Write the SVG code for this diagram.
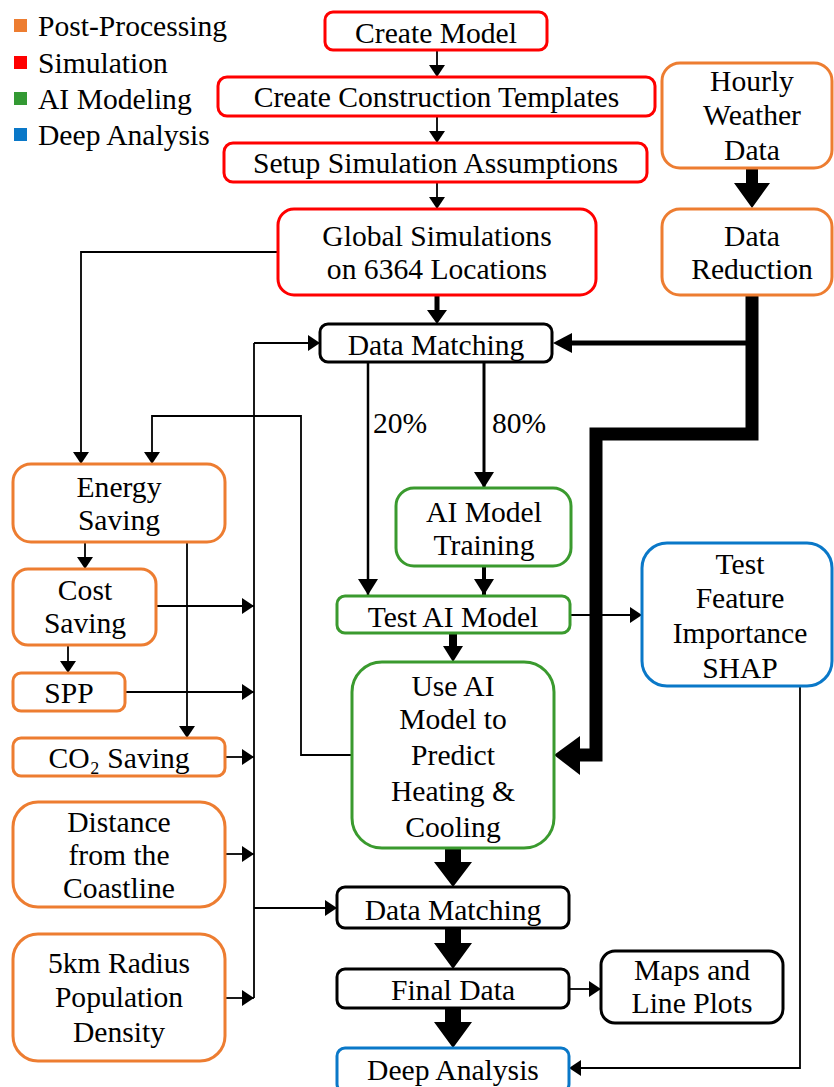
<svg xmlns="http://www.w3.org/2000/svg" width="834" height="1087" viewBox="0 0 834 1087">
<style>
text{font-family:"Liberation Serif","Times New Roman",serif;font-size:29.6px;fill:#000}
.n text{text-anchor:middle}
.box{fill:#fff;stroke-width:3}
.sim{stroke:#FF0000}
.post{stroke:#ED7D31}
.ai{stroke:#3A9A2E}
.deep{stroke:#0A78C8}
.blk{stroke:#000}
.ln{fill:none;stroke:#000;stroke-width:1.8}
.ah{fill:#000}
.lbl{text-anchor:start}
</style>
<defs>
<marker id="a" viewBox="0 0 12 16" refX="12" refY="8" markerWidth="12" markerHeight="16" markerUnits="userSpaceOnUse" orient="auto"><path d="M0,0 L12,8 L0,16 z" fill="#000"/></marker>
<marker id="b" viewBox="0 0 16 20" refX="16" refY="10" markerWidth="16" markerHeight="20" markerUnits="userSpaceOnUse" orient="auto"><path d="M0,0 L16,10 L0,20 z" fill="#000"/></marker>
</defs>
<rect width="834" height="1087" fill="#fff"/>
<g id="legend">
<rect x="14" y="19" width="13" height="13" fill="#ED7D31"/><text x="38" y="36">Post-Processing</text>
<rect x="14" y="56" width="13" height="13" fill="#FF0000"/><text x="38" y="73">Simulation</text>
<rect x="14" y="92" width="13" height="13" fill="#339933"/><text x="38" y="109">AI Modeling</text>
<rect x="14" y="128" width="13" height="13" fill="#0A78C8"/><text x="38" y="145">Deep Analysis</text>
</g>
<g id="connectors">
<path class="ln" d="M437,50 V77" marker-end="url(#a)"/>
<path class="ln" d="M437,116 V143" marker-end="url(#a)"/>
<path class="ln" d="M437,182 V209" marker-end="url(#a)"/>
<polygon class="ah" points="434.5,295 439.5,295 439.5,310 447,310 437,324 427,310 434.5,310"/>
<polygon class="ah" points="746,168 758,168 758,183 770,183 752,208 734,183 746,183"/>
<path d="M752,295 V434 H596 V755 H580" fill="none" stroke="#000" stroke-width="13"/>
<polygon class="ah" points="580,736 580,775 554,755"/>
<path d="M752,343 H571" fill="none" stroke="#000" stroke-width="5"/>
<polygon class="ah" points="572,333 572,353 553,343"/>
<path class="ln" d="M278,252 H81 V464" marker-end="url(#a)"/>
<path class="ln" d="M352,755 H301 V416 H152 V464" marker-end="url(#a)"/>
<path class="ln" d="M254,343 V998"/>
<path class="ln" d="M254,343 H320" marker-end="url(#a)"/>
<path class="ln" d="M254,908 H337" marker-end="url(#a)"/>
<path class="ln" d="M156,606 H254" marker-end="url(#a)"/>
<path class="ln" d="M125,692 H254" marker-end="url(#a)"/>
<path class="ln" d="M225,757 H254" marker-end="url(#a)"/>
<path class="ln" d="M225,854 H254" marker-end="url(#a)"/>
<path class="ln" d="M225,998 H254" marker-end="url(#a)"/>
<path class="ln" d="M85,542 V569" marker-end="url(#a)"/>
<path class="ln" d="M68,645 V673" marker-end="url(#a)"/>
<path class="ln" d="M187,542 V738" marker-end="url(#a)"/>
<path d="M368,362 V595" fill="none" stroke="#000" stroke-width="2.5" marker-end="url(#b)"/>
<path d="M484,362 V488" fill="none" stroke="#000" stroke-width="3" marker-end="url(#b)"/>
<path d="M484,566 V595" fill="none" stroke="#000" stroke-width="4" marker-end="url(#b)"/>
<polygon class="ah" points="449,633 457,633 457,646 463,646 453,662 443,646 449,646"/>
<path class="ln" d="M571,615 H642" marker-end="url(#a)"/>
<path class="ln" d="M800,686 V1068 H569" marker-end="url(#a)"/>
<path class="ln" d="M569,989 H601" marker-end="url(#a)"/>
<polygon class="ah" points="445,848 461,848 461,862 472,862 453,887 434,862 445,862"/>
<polygon class="ah" points="445,928 461,928 461,943 472,943 453,969 434,943 445,943"/>
<polygon class="ah" points="445,1008 461,1008 461,1022 472,1022 453,1048 434,1022 445,1022"/>
<text class="lbl" x="373" y="433">20%</text>
<text class="lbl" x="492" y="433">80%</text>
</g>
<g class="n">
<g id="create-model"><rect class="box sim" x="325" y="12" width="222" height="38" rx="8"/><text x="436" y="43">Create Model</text></g>
<g id="construction-templates"><rect class="box sim" x="218" y="77" width="437" height="39" rx="9"/><text x="436.5" y="107">Create Construction Templates</text></g>
<g id="simulation-assumptions"><rect class="box sim" x="224" y="143" width="423" height="39" rx="9"/><text x="435.5" y="173">Setup Simulation Assumptions</text></g>
<g id="global-simulations"><rect class="box sim" x="278" y="209" width="318" height="86" rx="16"/><text x="437" y="246">Global Simulations</text><text x="437" y="279">on 6364 Locations</text></g>
<g id="hourly-weather"><rect class="box post" x="662" y="63" width="170" height="105" rx="18"/><text x="752" y="91">Hourly</text><text x="752" y="125">Weather</text><text x="752" y="160">Data</text></g>
<g id="data-reduction"><rect class="box post" x="662" y="209" width="170" height="86" rx="18"/><text x="752" y="246">Data</text><text x="752" y="279">Reduction</text></g>
<g id="data-matching-1"><rect class="box blk" x="320" y="324" width="232" height="38" rx="8"/><text x="436" y="355">Data Matching</text></g>
<g id="ai-training"><rect class="box ai" x="396" y="488" width="175" height="78" rx="18"/><text x="484" y="522">AI Model</text><text x="484" y="555">Training</text></g>
<g id="test-ai"><rect class="box ai" x="337" y="596" width="233" height="37" rx="8"/><text x="453" y="627">Test AI Model</text></g>
<g id="shap"><rect class="box deep" x="642" y="543" width="190" height="143" rx="25"/><text x="740" y="574">Test</text><text x="740" y="608">Feature</text><text x="740" y="643">Importance</text><text x="740" y="678">SHAP</text></g>
<g id="use-ai"><rect class="box ai" x="352" y="662" width="202" height="186" rx="30"/><text x="453" y="696">Use AI</text><text x="453" y="729">Model to</text><text x="453" y="765">Predict</text><text x="453" y="801">Heating &amp;</text><text x="453" y="837">Cooling</text></g>
<g id="data-matching-2"><rect class="box blk" x="337" y="887" width="232" height="41" rx="8"/><text x="453" y="920">Data Matching</text></g>
<g id="final-data"><rect class="box blk" x="337" y="969" width="232" height="39" rx="8"/><text x="453" y="1000">Final Data</text></g>
<g id="maps"><rect class="box blk" x="601" y="951" width="182" height="72" rx="14"/><text x="692" y="980">Maps and</text><text x="692" y="1013">Line Plots</text></g>
<g id="deep-analysis"><rect class="box deep" x="337" y="1048" width="232" height="44" rx="8"/><text x="453" y="1080">Deep Analysis</text></g>
<g id="energy-saving"><rect class="box post" x="13" y="464" width="212" height="78" rx="18"/><text x="119" y="497">Energy</text><text x="119" y="530">Saving</text></g>
<g id="cost-saving"><rect class="box post" x="13" y="569" width="143" height="76" rx="15"/><text x="85" y="600">Cost</text><text x="85" y="633">Saving</text></g>
<g id="spp"><rect class="box post" x="13" y="673" width="112" height="38" rx="8"/><text x="69" y="703">SPP</text></g>
<g id="co2-saving"><rect class="box post" x="13" y="738" width="212" height="38" rx="8"/><text x="119" y="768">CO₂ Saving</text></g>
<g id="distance"><rect class="box post" x="13" y="802" width="212" height="105" rx="25"/><text x="119" y="832">Distance</text><text x="119" y="865">from the</text><text x="119" y="898">Coastline</text></g>
<g id="population"><rect class="box post" x="13" y="934" width="212" height="127" rx="25"/><text x="119" y="973">5km Radius</text><text x="119" y="1007">Population</text><text x="119" y="1042">Density</text></g>
</g>
</svg>
